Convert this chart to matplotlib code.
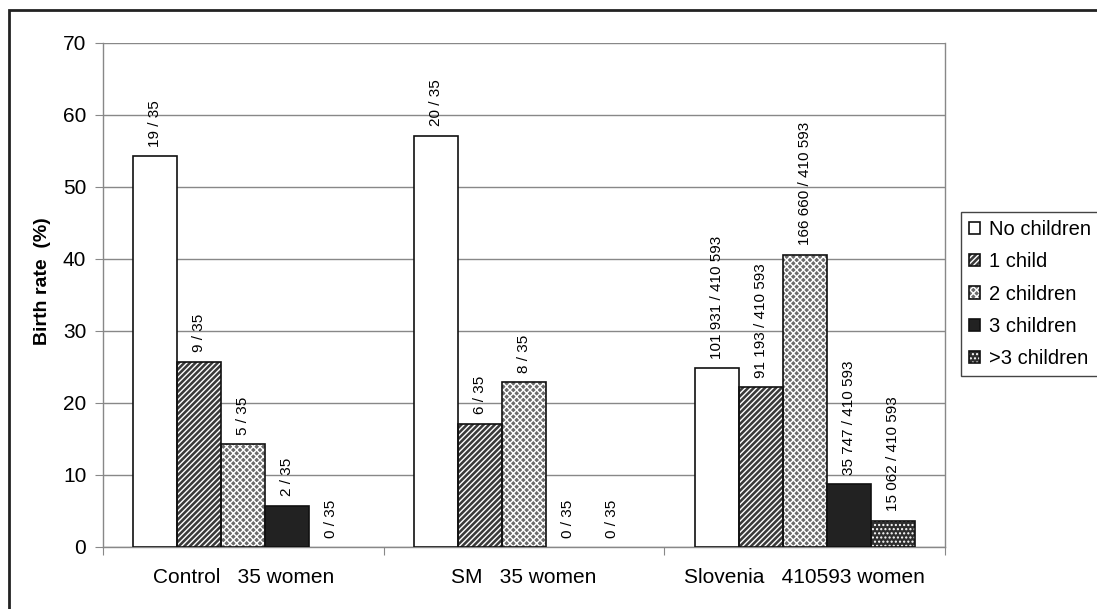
import matplotlib.pyplot as plt
import numpy as np
from matplotlib.patches import Rectangle

plt.rcParams['font.family'] = ['Liberation Sans', 'DejaVu Sans']
plt.rcParams['hatch.linewidth'] = 1.0

# groups and number of women per group
groups = ["Control   35 women", "SM   35 women", "Slovenia   410593 women"]
series = ["No children", "1 child", "2 children", "3 children", ">3 children"]
totals = [35, 35, 410593]
# counts per group: no children, 1, 2, 3, >3
counts = [
    [19, 9, 5, 2, 0],
    [20, 6, 8, 0, 0],
    [101931, 91193, 166660, 35747, 15062],
]

# bar looks for each series: face, hatch
faces = ["white", "#3a3a3a", "#6a6a6a", "#222222", "#2e2e2e"]
hatches = [None, "//////", "xxxxx", None, "...."]


def fmt(n):
    # thousands separated by a space
    return "{:,}".format(n).replace(",", " ")


fig = plt.figure(figsize=(10.97, 6.09), dpi=100)
ax = fig.add_axes([103 / 1097, 1 - 547 / 609, (945 - 103) / 1097, (547 - 43) / 609])

x = np.arange(len(groups))
w = 0.157
handles = []
for i, name in enumerate(series):
    vals = [100.0 * counts[g][i] / totals[g] for g in range(len(groups))]
    pos = x + (i - 2) * w
    fill = ax.bar(pos, vals, w, color=faces[i], hatch=hatches[i],
                  edgecolor="white", linewidth=0, zorder=3)
    lw = [1.2 if v > 0 else 0 for v in vals]
    edge = ax.bar(pos, vals, w, color="none", edgecolor="#111111",
                  linewidth=lw, zorder=4)
    handles.append((fill[0], edge[0] if vals[0] > 0 else edge[2]))
    for g in range(len(groups)):
        ax.text(pos[g], vals[g] + 1.3,
                "{} / {}".format(fmt(counts[g][i]), fmt(totals[g])),
                rotation=90, ha="center", va="bottom", fontsize=11, zorder=5)

ax.set_xlim(-0.5, 2.5)
ax.set_ylim(0, 70)
ax.set_yticks(range(0, 71, 10))
ax.set_xticks([-0.5, 0.5, 1.5, 2.5])
ax.set_xticklabels([])
ax.set_xticks(x, minor=True)
ax.set_xticklabels(groups, minor=True)
ax.tick_params(axis="x", which="minor", length=0, pad=15, labelsize=15)
ax.tick_params(axis="x", which="major", length=6, color="#888888")
ax.tick_params(axis="y", length=6, color="#888888", labelsize=15, pad=6)
ax.grid(axis="y", color="#888888", linewidth=1, zorder=0)
ax.set_axisbelow(True)
for s in ax.spines.values():
    s.set_color("#888888")
    s.set_linewidth(1)
ax.spines["top"].set_visible(False)
ax.set_ylabel("Birth rate  (%)", fontsize=14, fontweight="bold")
ax.yaxis.set_label_coords((51 - 103) / 842, (547 - 281) / 504)

leg = fig.legend(handles, series, loc="upper left",
                 bbox_to_anchor=(961 / 1097, 1 - 212 / 609),
                 borderaxespad=0, fontsize=14.5, handlelength=0.55,
                 handleheight=0.55, handletextpad=0.45, labelspacing=0.66,
                 borderpad=0.4, fancybox=False, framealpha=1)
leg.get_frame().set_edgecolor("#444444")
leg.get_frame().set_linewidth(1)

# outer frame round the chart
fig.patches.append(Rectangle((9 / 1097, -0.5), 2, 1.5 - 9.5 / 609,
                             transform=fig.transFigure, fill=False,
                             edgecolor="#222222", linewidth=2))

plt.savefig("out.png", dpi=100)
